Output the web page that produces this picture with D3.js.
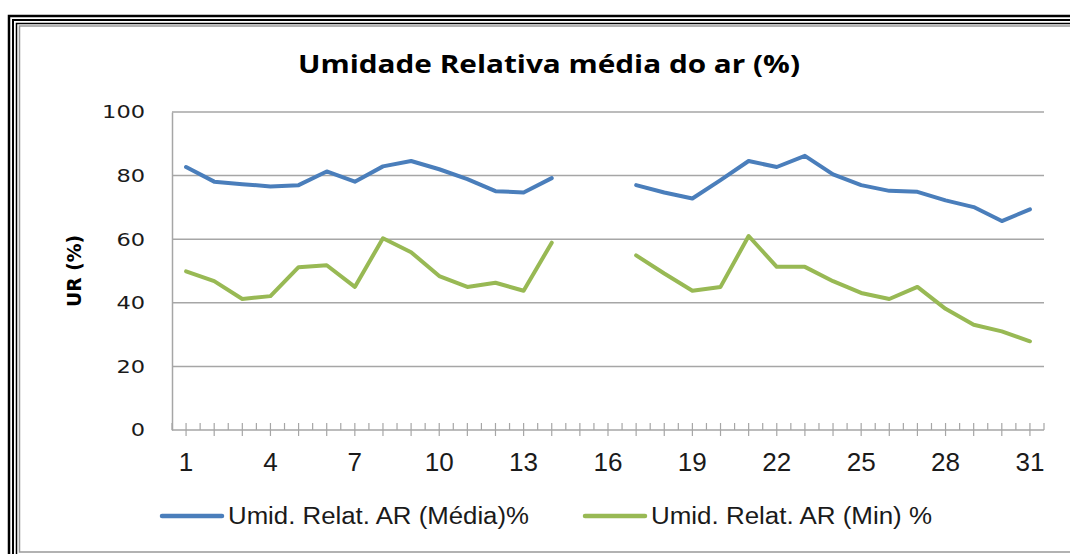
<!DOCTYPE html>
<html>
<head>
<meta charset="utf-8">
<script src="https://cdn.jsdelivr.net/npm/d3@7"></script>
<style>
  html, body { margin: 0; padding: 0; background: #fff; }
  svg { display: block; }
</style>
</head>
<body>
<svg id="chart" width="1070" height="554"></svg>
<script>
// days of the month (categories)
var days = d3.range(1, 32);
// relative humidity, mean and minimum (%), days 15-16 without data
var urMedia = [82.7, 78.1, 77.3, 76.6, 77.0, 81.3, 78.1, 82.9, 84.6, 82.0,
  78.9, 75.1, 74.7, 79.2, null, null, 77.0, 74.7, 72.8, 78.6,
  84.6, 82.7, 86.2, 80.4, 77.0, 75.2, 74.9, 72.2, 70.1, 65.7, 69.4];
var urMin = [49.9, 46.8, 41.2, 42.1, 51.2, 51.8, 45.0, 60.3, 55.9, 48.4,
  45.0, 46.3, 43.8, 58.9, null, null, 54.9, 49.2, 43.8, 45.0,
  61.0, 51.3, 51.3, 46.8, 43.1, 41.2, 45.0, 38.1, 33.1, 31.0, 27.9];
var yTicks = [0, 20, 40, 60, 80, 100];
var xLabels = [1, 4, 7, 10, 13, 16, 19, 22, 25, 28, 31];
var seriesNames = ["Umid. Relat. AR (Média)%", "Umid. Relat. AR (Min) %"];
var seriesColors = ["#4a7ebb", "#98b954"];

var svg = d3.select("#chart");

// frame (triple black border + inner grey line)
var frame = svg.append("g");
frame.append("rect").attr("x", 9).attr("y", 16).attr("width", 1200).attr("height", 700)
  .style("fill", "none").style("stroke", "#000").style("stroke-width", 2.5);
frame.append("rect").attr("x", 13).attr("y", 20).attr("width", 1200).attr("height", 700)
  .style("fill", "none").style("stroke", "#000").style("stroke-width", 2);
frame.append("rect").attr("x", 16.5).attr("y", 23.5).attr("width", 1200).attr("height", 700)
  .style("fill", "none").style("stroke", "#000").style("stroke-width", 1.5);
frame.append("rect").attr("x", 19.5).attr("y", 26).attr("width", 1200).attr("height", 526)
  .style("fill", "none").style("stroke", "#999").style("stroke-width", 1.5);

var plotLeft = 172, plotRight = 1044, plotTop = 112, plotBottom = 430;

var x = d3.scaleBand().domain(days).range([plotLeft, plotRight]).padding(0);
var y = d3.scaleLinear().domain([0, 100]).range([plotBottom, plotTop]);

// gridlines
svg.append("g").selectAll("line")
  .data(yTicks.filter(function (d) { return d > 0; }))
  .join("line")
  .attr("x1", plotLeft).attr("x2", plotRight)
  .attr("y1", function (d) { return y(d); }).attr("y2", function (d) { return y(d); })
  .style("stroke", "#a6a6a6").style("stroke-width", 1.5);

// y axis
var yAxis = svg.append("g")
  .attr("transform", "translate(" + plotLeft + ",0)")
  .call(d3.axisLeft(y).tickValues(yTicks).tickSize(0).tickPadding(27));
yAxis.select(".domain").style("stroke", "#a6a6a6").style("stroke-width", 1.5);
yAxis.selectAll("text")
  .style("font-family", "DejaVu Sans, sans-serif")
  .style("font-size", "18.5px")
  .style("fill", "#1a1a1a")
  .attr("textLength", function (d) { return String(d).length * 14.3; })
  .attr("lengthAdjust", "spacingAndGlyphs");

// x axis: line, ticks at category centres and boundaries
var xAxis = svg.append("g");
xAxis.append("line")
  .attr("x1", plotLeft).attr("x2", plotRight).attr("y1", plotBottom).attr("y2", plotBottom)
  .style("stroke", "#a6a6a6").style("stroke-width", 1.5);
xAxis.selectAll("line.center")
  .data(days)
  .join("line")
  .attr("class", "center")
  .attr("x1", function (d) { return x(d) + x.bandwidth() / 2; })
  .attr("x2", function (d) { return x(d) + x.bandwidth() / 2; })
  .attr("y1", plotBottom - 7).attr("y2", plotBottom + 6)
  .style("stroke", "#a6a6a6").style("stroke-width", 1.2);
xAxis.selectAll("line.edge")
  .data(days.concat([32]))
  .join("line")
  .attr("class", "edge")
  .attr("x1", function (d) { return d === 32 ? plotRight : x(d); })
  .attr("x2", function (d) { return d === 32 ? plotRight : x(d); })
  .attr("y1", plotBottom - 7).attr("y2", plotBottom)
  .style("stroke", "#a6a6a6").style("stroke-width", 1.2);
xAxis.selectAll("text")
  .data(xLabels)
  .join("text")
  .attr("x", function (d) { return x(d) + x.bandwidth() / 2; })
  .attr("y", 471)
  .style("text-anchor", "middle")
  .style("font-family", "Liberation Sans, Arial, sans-serif")
  .style("font-size", "25px")
  .style("fill", "#1a1a1a")
  .attr("textLength", function (d) { return String(d).length * 14.5; })
  .attr("lengthAdjust", "spacingAndGlyphs")
  .text(function (d) { return d; });

// lines
var line = d3.line()
  .defined(function (d) { return d.v != null; })
  .x(function (d) { return x(d.day) + x.bandwidth() / 2; })
  .y(function (d) { return y(d.v); });

[urMedia, urMin].forEach(function (vals, i) {
  var pts = days.map(function (day, j) { return {day: day, v: vals[j]}; });
  svg.append("path")
    .datum(pts)
    .attr("d", line)
    .style("fill", "none")
    .style("stroke", seriesColors[i])
    .style("stroke-width", 4)
    .style("stroke-linejoin", "round")
    .style("stroke-linecap", "round");
});

// title
svg.append("text")
  .attr("x", 549).attr("y", 73)
  .style("text-anchor", "middle")
  .style("font-family", "Open Sans, sans-serif")
  .style("font-weight", "bold")
  .style("font-size", "25px")
  .style("fill", "#000")
  .attr("textLength", 502)
  .attr("lengthAdjust", "spacingAndGlyphs")
  .text("Umidade Relativa média do ar (%)");

// y axis title
svg.append("text")
  .attr("transform", "translate(81,271) rotate(-90)")
  .style("text-anchor", "middle")
  .style("font-family", "DejaVu Sans, sans-serif")
  .style("font-weight", "bold")
  .style("font-size", "20px")
  .style("fill", "#000")
  .attr("textLength", 72)
  .attr("lengthAdjust", "spacingAndGlyphs")
  .text("UR (%)");

// legend
var legendX = [162, 585];
var legendW = [301, 281];
var legend = svg.append("g");
seriesNames.forEach(function (name, i) {
  legend.append("line")
    .attr("x1", legendX[i]).attr("x2", legendX[i] + 60)
    .attr("y1", 516).attr("y2", 516)
    .style("stroke", seriesColors[i])
    .style("stroke-width", 4.5)
    .style("stroke-linecap", "round");
  legend.append("text")
    .attr("x", legendX[i] + 66).attr("y", 524)
    .style("font-family", "Liberation Sans, Arial, sans-serif")
    .style("font-size", "23px")
    .style("fill", "#1a1a1a")
    .attr("textLength", legendW[i])
    .attr("lengthAdjust", "spacingAndGlyphs")
    .text(name);
});
</script>
</body>
</html>
